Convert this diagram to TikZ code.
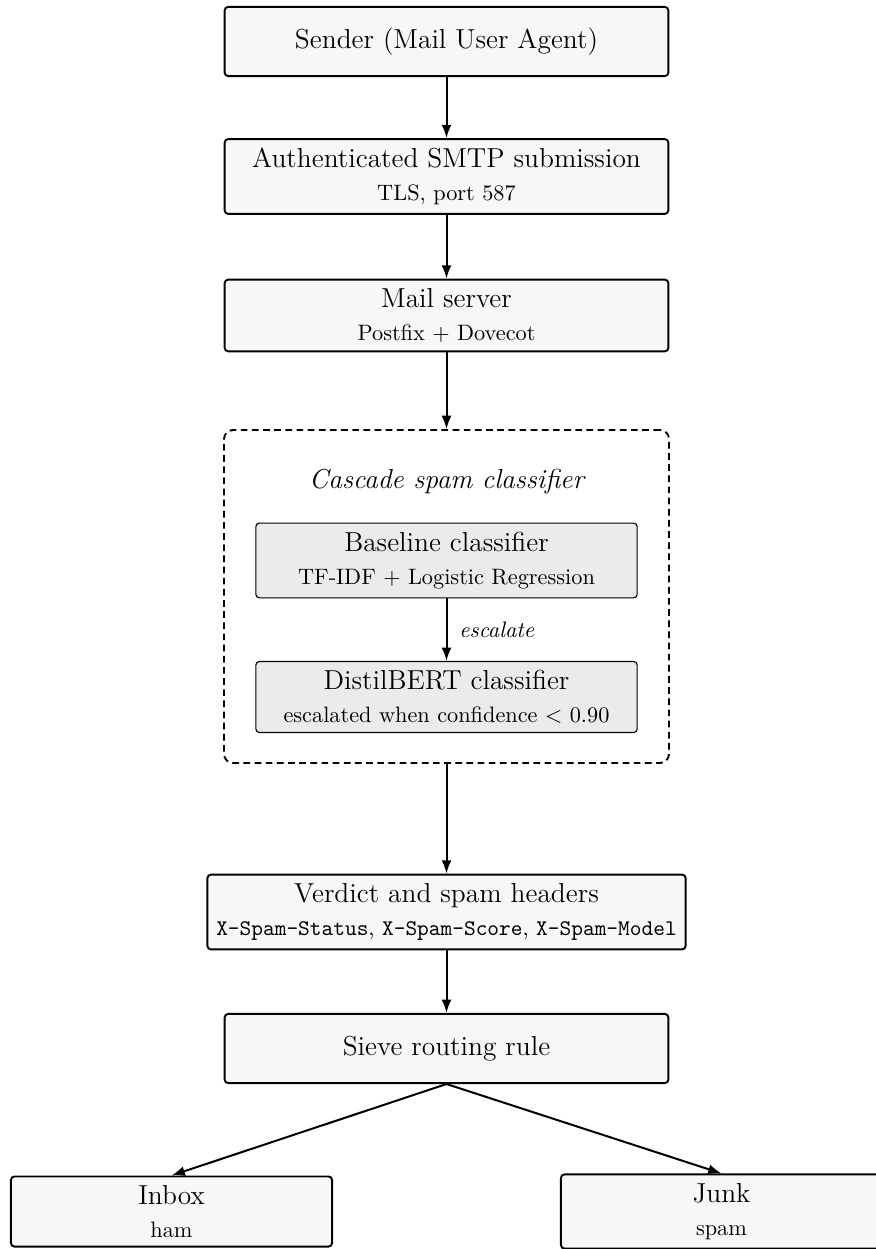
\documentclass[tikz,border=0pt]{standalone}
\usetikzlibrary{arrows.meta}
\newcommand{\subtxt}[1]{{\normalsize #1}}
\newcommand{\mainsize}{\fontsize{12.3}{14.8}\selectfont}
\begin{document}
\begin{tikzpicture}[x=0.4484pt, y=-0.4484pt,
  box/.style={draw, line width=0.85pt, rounded corners=1.6pt, fill=black!3, align=center,
    minimum width=199pt, minimum height=31pt, inner sep=4pt, font=\mainsize},
  innerbox/.style={draw, line width=0.5pt, rounded corners=1.6pt, fill=black!8, align=center,
    minimum width=171pt, minimum height=31pt, inner sep=4pt, font=\mainsize},
  dashbox/.style={draw, line width=0.85pt, dash pattern=on 3pt off 2pt, rounded corners=4pt,
    minimum width=199.5pt, minimum height=149.3pt, inner sep=0pt},
  arr/.style={-{Latex[length=6pt,width=4.5pt]}, line width=0.9pt}]
\useasboundingbox (0,0) rectangle (875,1249);

\node[box] (sender) at (446.5,41.5) {Sender (Mail User Agent)};
\node[box] (auth) at (446.5,176.5) {Authenticated SMTP submission\\\subtxt{TLS, port 587}};
\node[box] (mail) at (446.5,315.5) {Mail server\\\subtxt{Postfix + Dovecot}};

\node[dashbox] (cascade) at (446.5,596.5) {};
\node[font=\mainsize\itshape] (ctitle) at (446.5,482) {Cascade spam classifier};
\node[innerbox] (base) at (446.5,560.5) {Baseline classifier\\\subtxt{TF-IDF + Logistic Regression}};
\node[innerbox] (bert) at (446.5,697) {DistilBERT classifier\\\subtxt{escalated when confidence $<$ 0.90}};

\node[box] (verdict) at (446.5,912) {Verdict and spam headers\\\subtxt{\texttt{X-Spam-Status}, \texttt{X-Spam-Score}, \texttt{X-Spam-Model}}};
\node[box] (sieve) at (446.5,1048.5) {Sieve routing rule};
\node[box, minimum width=144pt] (inboxn) at (171.5,1211.5) {Inbox\\\subtxt{ham}};
\node[box, minimum width=144pt] (junk) at (721.5,1211.5) {Junk\\\subtxt{spam}};

\draw[arr] (sender) -- (auth);
\draw[arr] (auth) -- (mail);
\draw[arr] (mail) -- (cascade);
\draw[arr] (base) -- node[midway, right, xshift=2pt, font=\itshape] {escalate} (bert);
\draw[arr] (cascade) -- (verdict);
\draw[arr] (verdict) -- (sieve);
\draw[arr] (sieve.south) -- (inboxn.north);
\draw[arr] (sieve.south) -- (junk.north);
\end{tikzpicture}
\end{document}
